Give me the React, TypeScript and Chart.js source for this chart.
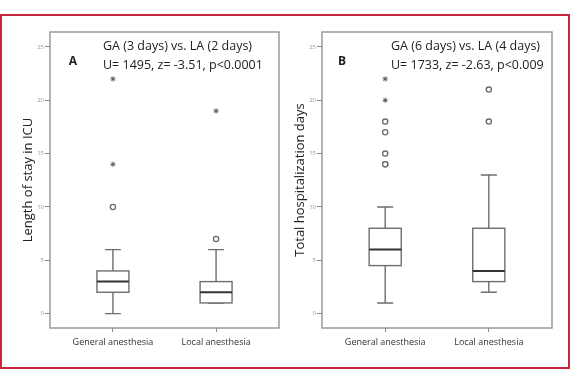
import React, { useEffect, useRef } from "react";
import { Chart, registerables } from "chart.js";
Chart.register(...registerables);

const categories = ["General anesthesia", "Local anesthesia"];
const yTickValues = [0, 5, 10, 15, 20, 25];

// Panel A: Length of stay in ICU
const icuMin = [0, 1];
const icuQ1 = [2, 1];
const icuMedian = [3, 2];
const icuQ3 = [4, 3];
const icuMax = [6, 6];
const icuOutliers = [[10], [7]];
const icuExtremes = [[14, 22], [19]];

// Panel B: Total hospitalization days
const hospMin = [1, 2];
const hospQ1 = [4.5, 3];
const hospMedian = [6, 4];
const hospQ3 = [8, 8];
const hospMax = [10, 13];
const hospOutliers = [[14, 14, 15, 17, 18], [18, 21]];
const hospExtremes = [[20, 22], []];

const FONT = "'Open Sans', 'Noto Sans', sans-serif";

type Panel = {
  letter: string;
  title: string;
  line1: string;
  line2: string;
  min: number[];
  q1: number[];
  med: number[];
  q3: number[];
  max: number[];
  outliers: number[][];
  extremes: number[][];
  yWidth: number;
  padRight: number;
  titlePad: number;
  letterDx: number;
  textDx: number;
};

const panels: Panel[] = [
  {
    letter: "A",
    title: "Length of stay in ICU",
    line1: "GA (3 days) vs. LA (2 days)",
    line2: "U= 1495, z= -3.51, p<0.0001",
    min: icuMin, q1: icuQ1, med: icuMedian, q3: icuQ3, max: icuMax,
    outliers: icuOutliers, extremes: icuExtremes,
    yWidth: 50, padRight: 6, titlePad: 20, letterDx: 23, textDx: 53,
  },
  {
    letter: "B",
    title: "Total hospitalization days",
    line1: "GA (6 days) vs. LA (4 days)",
    line2: "U= 1733, z= -2.63, p<0.009",
    min: hospMin, q1: hospQ1, med: hospMedian, q3: hospQ3, max: hospMax,
    outliers: hospOutliers, extremes: hospExtremes,
    yWidth: 37, padRight: 18, titlePad: 7.5, letterDx: 20, textDx: 69,
  },
];

const BOX_W = 0.31;

function makePlugin(p: Panel) {
  return {
    id: "boxplot" + p.letter,
    beforeDatasetsDraw(chart: any) {
      const { ctx } = chart;
      const xs = chart.scales.x;
      const ys = chart.scales.y;
      ctx.save();
      categories.forEach((_, i) => {
        const l = xs.getPixelForValue(i - BOX_W / 2);
        const r = xs.getPixelForValue(i + BOX_W / 2);
        const cl = xs.getPixelForValue(i - BOX_W / 4);
        const cr = xs.getPixelForValue(i + BOX_W / 4);
        const c = xs.getPixelForValue(i);
        const yMin = ys.getPixelForValue(p.min[i]);
        const yQ1 = ys.getPixelForValue(p.q1[i]);
        const yMed = ys.getPixelForValue(p.med[i]);
        const yQ3 = ys.getPixelForValue(p.q3[i]);
        const yMax = ys.getPixelForValue(p.max[i]);
        ctx.strokeStyle = "#6e6e6e";
        ctx.lineWidth = 1.4;
        ctx.beginPath();
        ctx.moveTo(c, yQ3); ctx.lineTo(c, yMax);
        ctx.moveTo(cl, yMax); ctx.lineTo(cr, yMax);
        ctx.moveTo(c, yQ1); ctx.lineTo(c, yMin);
        ctx.moveTo(cl, yMin); ctx.lineTo(cr, yMin);
        ctx.stroke();
        ctx.fillStyle = "#ffffff";
        ctx.fillRect(l, yQ3, r - l, yQ1 - yQ3);
        ctx.strokeRect(l, yQ3, r - l, yQ1 - yQ3);
        ctx.strokeStyle = "#333333";
        ctx.lineWidth = 2;
        ctx.beginPath();
        ctx.moveTo(l, yMed); ctx.lineTo(r, yMed);
        ctx.stroke();
      });
      ctx.restore();
    },
    afterDraw(chart: any) {
      const { ctx, chartArea } = chart;
      ctx.save();
      ctx.strokeStyle = "#8a8a8a";
      ctx.lineWidth = 1.3;
      ctx.strokeRect(chartArea.left, chartArea.top, chartArea.right - chartArea.left, chartArea.bottom - chartArea.top);
      ctx.fillStyle = "#222222";
      ctx.textBaseline = "middle";
      ctx.textAlign = "center";
      ctx.font = "bold 12px " + FONT;
      ctx.fillText(p.letter, chartArea.left + p.letterDx, 62);
      ctx.textAlign = "left";
      ctx.font = "12.5px " + FONT;
      ctx.fillText(p.line1, chartArea.left + p.textDx, 46.5);
      ctx.fillText(p.line2, chartArea.left + p.textDx, 65);
      ctx.restore();
    },
  };
}

function PanelChart({ p, left }: { p: Panel; left: number }) {
  const ref = useRef<HTMLCanvasElement | null>(null);
  useEffect(() => {
    if (!ref.current) return;
    const outlierData: any[] = [];
    const extremeData: any[] = [];
    categories.forEach((_, i) => {
      p.outliers[i].forEach((v) => outlierData.push({ x: i, y: v }));
      p.extremes[i].forEach((v) => extremeData.push({ x: i, y: v }));
    });
    const chart = new Chart(ref.current, {
      type: "scatter",
      data: {
        datasets: [
          {
            data: outlierData,
            pointStyle: "circle",
            pointRadius: 2.6,
            borderColor: "#6a6a6a",
            backgroundColor: "#ffffff",
            borderWidth: 1.3,
          },
          {
            data: extremeData,
            pointStyle: "star",
            pointRadius: 2.6,
            borderColor: "#5a5a5a",
            backgroundColor: "#5a5a5a",
            borderWidth: 1,
          },
        ],
      },
      options: {
        animation: false,
        responsive: false,
        devicePixelRatio: 1,
        layout: { padding: { left: 0, right: p.padRight, top: 32, bottom: 19 } },
        plugins: { legend: { display: false }, tooltip: { enabled: false } },
        scales: {
          x: {
            type: "linear",
            min: -0.61,
            max: 1.61,
            afterBuildTicks: (s: any) => {
              s.ticks = categories.map((_, i) => ({ value: i }));
            },
            afterFit: (s: any) => {
              s.height = 30;
            },
            ticks: {
              callback: (v: any) => categories[Math.round(Number(v))] ?? "",
              color: "#333333",
              font: { family: FONT, size: 9 },
              padding: 5,
              maxRotation: 0,
              autoSkip: false,
            },
            grid: { drawOnChartArea: false, drawTicks: true, tickLength: 4, color: "#8a8a8a" },
            border: { display: false },
          },
          y: {
            type: "linear",
            min: -1.35,
            max: 26.4,
            afterBuildTicks: (s: any) => {
              s.ticks = yTickValues.map((v) => ({ value: v }));
            },
            afterFit: (s: any) => {
              s.width = p.yWidth;
            },
            ticks: {
              color: "#999999",
              font: { family: FONT, size: 6 },
              padding: 1,
            },
            grid: { drawOnChartArea: false, drawTicks: true, tickLength: 5, color: "#8a8a8a" },
            border: { display: false },
            title: {
              display: true,
              text: p.title,
              color: "#222222",
              font: { family: FONT, size: 13 },
              padding: { top: p.titlePad, bottom: 0 },
            },
          },
        },
      },
      plugins: [makePlugin(p)],
    } as any);
    return () => chart.destroy();
  }, [p]);
  return (
    <canvas
      ref={ref}
      width={285}
      height={377}
      style={{ position: "absolute", left, top: 0, width: 285, height: 377 }}
    />
  );
}

export default function App() {
  return (
    <div style={{ position: "absolute", left: 0, top: 0, width: 575, height: 377, background: "#ffffff", overflow: "hidden" }}>
      <div
        style={{
          position: "absolute",
          left: 0,
          top: 14,
          width: 570,
          height: 355,
          boxSizing: "border-box",
          border: "2px solid #c5283d",
        }}
      />
      <PanelChart p={panels[0]} left={0} />
      <PanelChart p={panels[1]} left={285} />
    </div>
  );
}
